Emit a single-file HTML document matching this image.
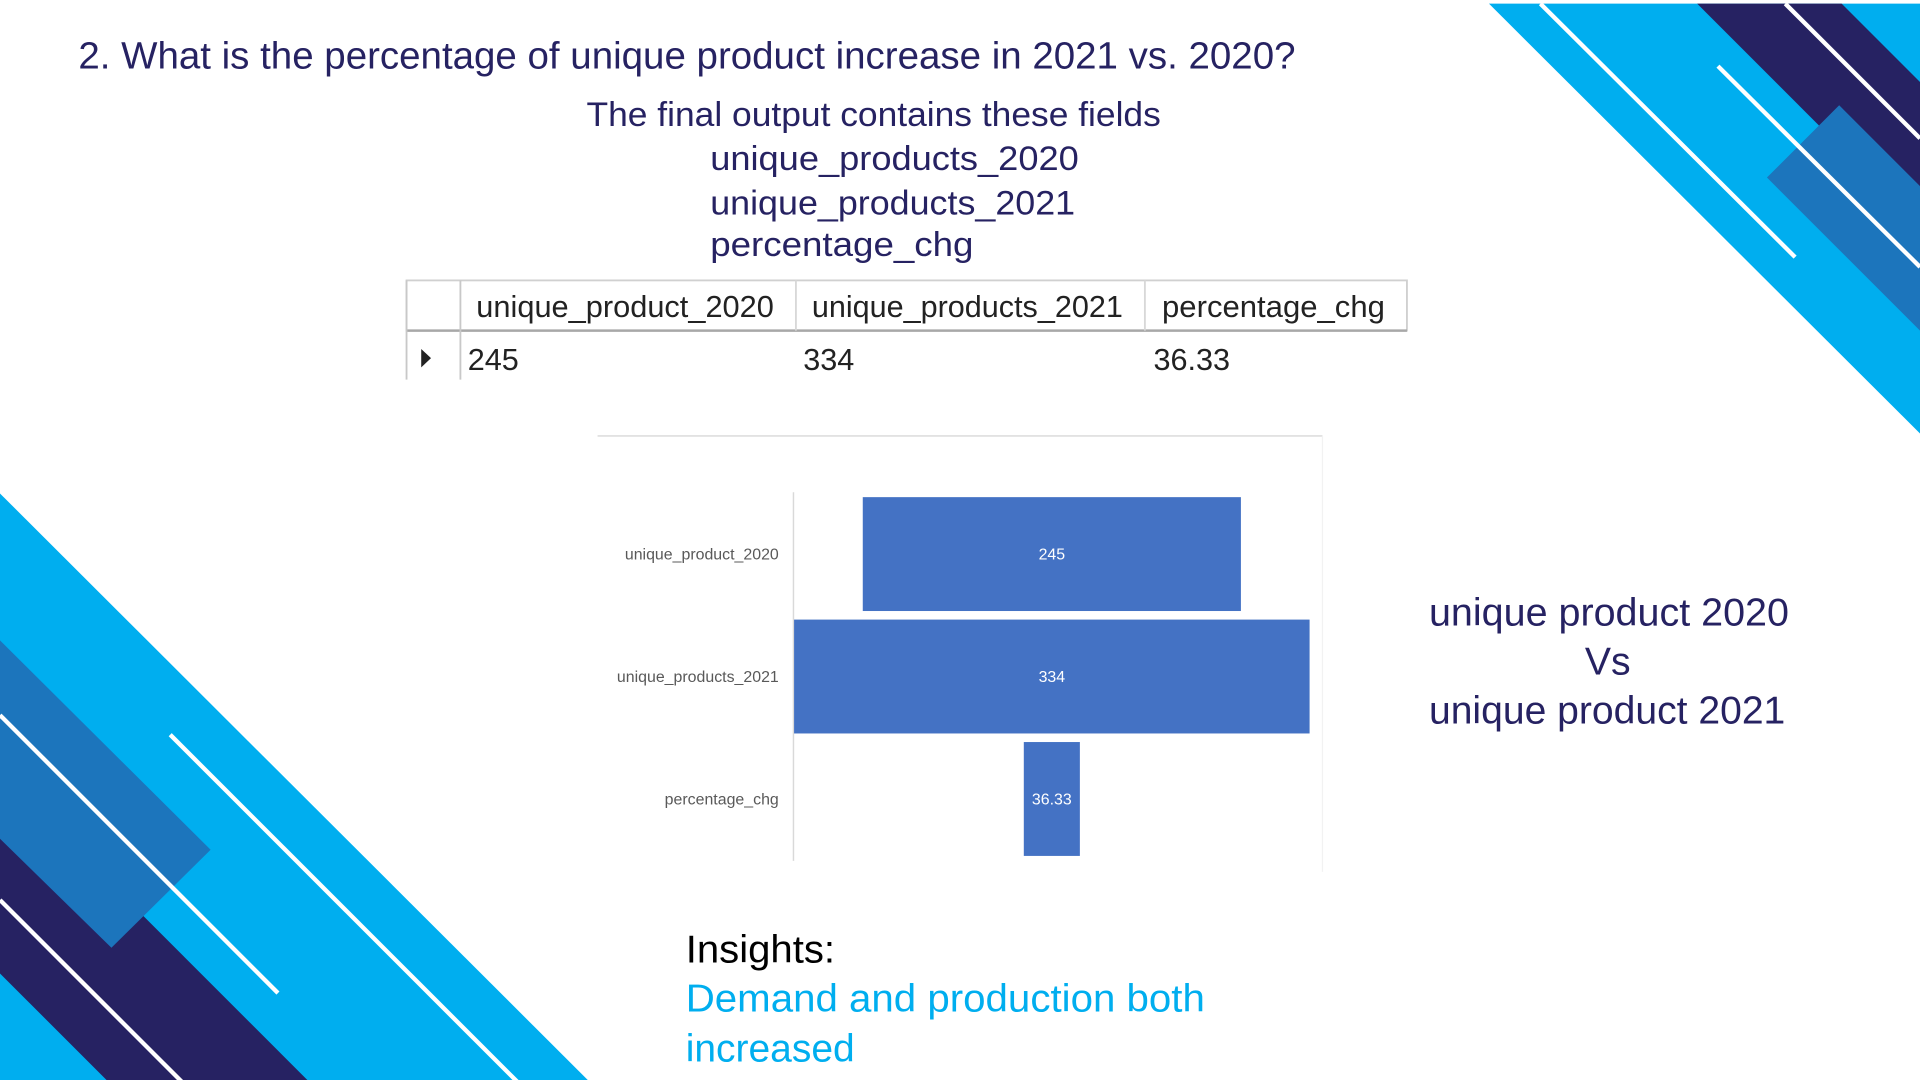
<!DOCTYPE html>
<html><head><meta charset="utf-8"><style>
html,body{margin:0;padding:0;background:#fff;overflow:hidden}
svg{display:block}
text{font-family:"Liberation Sans",sans-serif}
</style></head><body>
<svg id="page" width="1920" height="1080" viewBox="0 0 1568 882" preserveAspectRatio="none" xmlns="http://www.w3.org/2000/svg">
<rect width="1568" height="882" fill="#fff"/>
<g>
  <polygon points="1216,3 1568,3 1568,354" fill="#00AEEF"/>
  <polygon points="1386,3 1504,3 1568,67 1568,185" fill="#262262"/>
  <polygon points="1502,86 1568,152 1568,270 1443,145" fill="#1C75BC"/>
  <line x1="1258" y1="3" x2="1466" y2="210" stroke="#fff" stroke-width="3.5"/>
  <line x1="1403" y1="54" x2="1568" y2="218" stroke="#fff" stroke-width="3.5"/>
  <line x1="1458" y1="3" x2="1568" y2="113" stroke="#fff" stroke-width="3.5"/>
</g>
<g>
  <polygon points="0,403 480,882 0,882" fill="#00AEEF"/>
  <polygon points="0,631 251,882 87,882 0,795" fill="#262262"/>
  <polygon points="0,523 172,694 91,774 0,685" fill="#1C75BC"/>
  <line x1="0" y1="584" x2="227" y2="811" stroke="#fff" stroke-width="3.5"/>
  <line x1="139" y1="600" x2="424" y2="885" stroke="#fff" stroke-width="3.5"/>
  <line x1="0" y1="735" x2="149" y2="884" stroke="#fff" stroke-width="3.5"/>
</g>
<text x="64" y="56" font-size="31" fill="#262262" textLength="994" lengthAdjust="spacingAndGlyphs">2. What is the percentage of unique product increase in 2021 vs. 2020?</text>
<g fill="#262262" font-size="28">
  <text x="479" y="103" textLength="469" lengthAdjust="spacingAndGlyphs">The final output contains these fields</text>
  <text x="580" y="139" textLength="301" lengthAdjust="spacingAndGlyphs">unique_products_2020</text>
  <text x="580" y="175" textLength="298" lengthAdjust="spacingAndGlyphs">unique_products_2021</text>
  <text x="580" y="209" textLength="215" lengthAdjust="spacingAndGlyphs">percentage_chg</text>
</g>
<g>
  <rect x="332" y="229" width="817" height="41" fill="#fff" stroke="#d0d0d0" stroke-width="1.5"/>
  <line x1="332" y1="270" x2="1149" y2="270" stroke="#a8a8a8" stroke-width="2"/>
  <line x1="376" y1="229" x2="376" y2="310" stroke="#c8c8c8" stroke-width="1.5"/>
  <line x1="332" y1="229" x2="332" y2="310" stroke="#c8c8c8" stroke-width="1.5"/>
  <line x1="650" y1="229" x2="650" y2="270" stroke="#d8d8d8" stroke-width="1.5"/>
  <line x1="935" y1="229" x2="935" y2="270" stroke="#d8d8d8" stroke-width="1.5"/>
  <g fill="#222" font-size="25">
    <text x="389" y="259" textLength="243" lengthAdjust="spacingAndGlyphs">unique_product_2020</text>
    <text x="663" y="259" textLength="254" lengthAdjust="spacingAndGlyphs">unique_products_2021</text>
    <text x="949" y="259" textLength="182" lengthAdjust="spacingAndGlyphs">percentage_chg</text>
    <text x="382" y="302">245</text>
    <text x="656" y="302">334</text>
    <text x="942" y="302">36.33</text>
  </g>
  <polygon points="344,285 352,292.5 344,300" fill="#222"/>
</g>
<g id="chart">
  <line x1="488" y1="356" x2="1080" y2="356" stroke="#e2e2e2" stroke-width="1.5"/>
  <line x1="1080" y1="356" x2="1080" y2="712" stroke="#f2f2f2" stroke-width="1"/>
  <line x1="648" y1="402" x2="648" y2="703" stroke="#d9d9d9" stroke-width="1.2"/>
</g>
<g fill="#262262" font-size="32">
  <text x="1167" y="511" textLength="294" lengthAdjust="spacingAndGlyphs">unique product 2020</text>
  <text x="1313" y="551" text-anchor="middle">Vs</text>
  <text x="1167" y="591" textLength="291" lengthAdjust="spacingAndGlyphs">unique product 2021</text>
</g>
<g font-size="32">
  <text x="560" y="786" fill="#000" textLength="122" lengthAdjust="spacingAndGlyphs">Insights:</text>
  <text x="560" y="826" fill="#00AEEF" textLength="424" lengthAdjust="spacingAndGlyphs">Demand and production both</text>
  <text x="560" y="867" fill="#00AEEF" textLength="138" lengthAdjust="spacingAndGlyphs">increased</text>
</g>
</svg>
<script>
const categories = ["unique_product_2020", "unique_products_2021", "percentage_chg"];
const values = [245, 334, 36.33];
const valueLabels = ["245", "334", "36.33"];

const NS = "http://www.w3.org/2000/svg";
const chart = document.getElementById("chart");
const centerX = 859, bandTop = 402, bandH = 100, barH = 93, pxPerUnit = 421 / 334;
function xWidth(v) { return v * pxPerUnit; }
function bandY(i) { return bandTop + i * bandH + 4; }
categories.forEach((c, i) => {
  const w = xWidth(values[i]);
  const y = bandY(i);
  const r = document.createElementNS(NS, "rect");
  r.setAttribute("x", centerX - w / 2);
  r.setAttribute("y", y);
  r.setAttribute("width", w);
  r.setAttribute("height", barH);
  r.setAttribute("fill", "#4472C4");
  
  
  chart.appendChild(r);
  const t = document.createElementNS(NS, "text");
  t.setAttribute("x", centerX);
  t.setAttribute("y", y + barH / 2 + 4.5);
  t.setAttribute("text-anchor", "middle");
  t.setAttribute("font-size", "13");
  t.setAttribute("fill", "#fff");
  t.textContent = valueLabels[i];
  
  
  chart.appendChild(t);
  const l = document.createElementNS(NS, "text");
  l.setAttribute("x", 636);
  l.setAttribute("y", y + barH / 2 + 4.5);
  l.setAttribute("text-anchor", "end");
  l.setAttribute("font-size", "13");
  l.setAttribute("fill", "#595959");
  l.textContent = c;
  
  
  chart.appendChild(l);
});
</script>
</body></html>
